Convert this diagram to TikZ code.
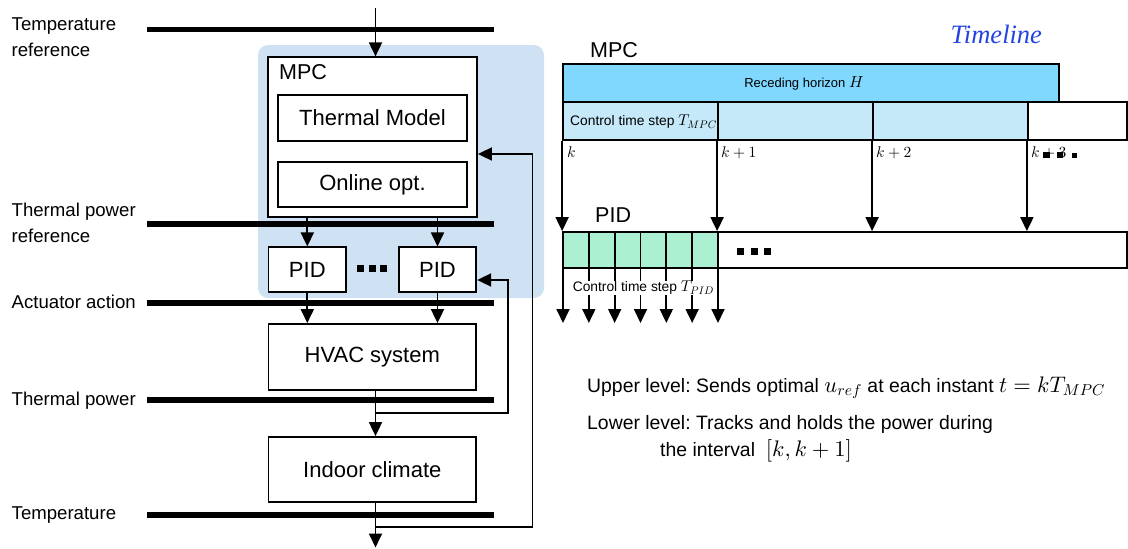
\documentclass[tikz,border=0pt]{standalone}
\usepackage{fontspec}
\setmainfont{Liberation Sans}
\newfontfamily\tlfont{Liberation Serif}
\DeclareFontShape{OML}{cmm}{m}{it}{<->cmmi10}{}
\DeclareFontShape{OT1}{cmr}{m}{n}{<->cmr10}{}
\DeclareFontShape{OMS}{cmsy}{m}{n}{<->cmsy10}{}
\usetikzlibrary{arrows.meta,calc}
\definecolor{bgblue}{HTML}{CFE2F3}
\definecolor{rhblue}{HTML}{80D8FF}
\definecolor{ctblue}{HTML}{C5E9F9}
\definecolor{pidgreen}{HTML}{AAF0D1}
\definecolor{tlblue}{HTML}{2343E0}
\newcommand{\fsz}[1]{\fontsize{#1}{#1}\selectfont}
\newcommand{\mth}[2]{{\fsz{#1}$#2$}}
\frenchspacing
\begin{document}
\begin{tikzpicture}[x=1pt,y=-1pt,
  box/.style={draw, line width=1.8pt, fill=white, inner sep=0pt, font=\fsz{22}},
  bus/.style={line width=5.2pt},
  lbl/.style={anchor=base west, inner sep=0pt, font=\fsz{18.6}},
  arr/.style={line width=1.8pt, -{Triangle[length=14pt,width=13pt]}},
  cell/.style={draw, line width=1.8pt, inner sep=0pt},
  sq/.style={fill=black},
  small/.style={inner sep=0pt, font=\fsz{13.8}},
  note/.style={anchor=base west, inner sep=0pt, font=\fsz{19.4}},
]
\useasboundingbox (0,0) rectangle (1128,549);

% ---------------- left: block diagram ----------------
\fill[bgblue, rounded corners=10pt] (258,45) rectangle (544,298);

\draw[bus] (147,29.2) -- (494,29.2);
\draw[bus] (147,224) -- (494,224);
\draw[bus] (147,303) -- (494,303);
\draw[bus] (147,400) -- (494,400);
\draw[bus] (147,515) -- (494,515);

\node[lbl] (l1a) at (11.5,30) {Temperature};
\node[lbl] (l1b) at (11.5,56.7) {reference};
\node[lbl] (l2a) at (11.5,216) {Thermal power};
\node[lbl] (l2b) at (11.5,242.5) {reference};
\node[lbl] (l3) at (11.5,308) {Actuator action};
\node[lbl] (l4) at (11.5,405) {Thermal power};
\node[lbl] (l5) at (11.5,519.5) {Temperature};

\node[box, minimum width=209pt, minimum height=160pt] (mpc) at (372.5,137.3) {};
\node[anchor=west, inner sep=0pt, font=\fsz{21.5}] (mpct) at (279,71.7) {MPC};
\node[box, minimum width=189pt, minimum height=45.7pt] (tm) at (372.5,118) {Thermal Model};
\node[box, minimum width=189pt, minimum height=45.6pt] (oo) at (372.5,184.5) {Online opt.};
\node[box, minimum width=77.5pt, minimum height=44.7pt] (pid1) at (307.3,269.7) {PID};
\node[box, minimum width=77.5pt, minimum height=44.7pt] (pid2) at (437.5,269.7) {PID};
\node[box, minimum width=207.5pt, minimum height=66pt] (hvac) at (372.3,357) {HVAC system};
\node[box, minimum width=207.5pt, minimum height=65pt] (indoor) at (372.3,469.5) {Indoor climate};

\fill[sq] (357,265) rectangle (364,272);
\fill[sq] (369,265) rectangle (376,272);
\fill[sq] (380,265) rectangle (387,272);

\coordinate (cx) at (375.5,0);
\coordinate (in0) at (375.5,8);
\coordinate (out) at (375.5,547.5);
\coordinate (fb1) at (375.5,413);
\coordinate (fb1r) at (508,280);
\coordinate (fb2) at (375.5,527);
\coordinate (fb2r) at (532.5,154);

\draw[arr] (in0) -- (in0 |- mpc.north);
\draw[arr] (pid1.north |- mpc.south) -- (pid1.north);
\draw[arr] (pid2.north |- mpc.south) -- (pid2.north);
\draw[arr] (pid1.south) -- (pid1.south |- hvac.north);
\draw[arr] (pid2.south) -- (pid2.south |- hvac.north);
\draw[arr] (hvac.south -| cx) -- (indoor.north -| cx);
\draw[arr] (indoor.south -| cx) -- (out);
\draw[arr] (fb1) -| (fb1r) -- (fb1r -| pid2.east);
\draw[arr] (fb2) -| (fb2r) -- (fb2r -| mpc.east);

% ---------------- right: timeline ----------------
\node[anchor=west, inner sep=0pt, font=\fsz{21.5}] (mpcR) at (590,50) {MPC};
\node[anchor=base west, inner sep=0pt, text=tlblue, font=\tlfont\itshape\fsz{26.5}] (tl) at (950.5,43.3) {Timeline};

\node[cell, fill=rhblue, minimum width=496pt, minimum height=37.5pt] (rh) at (811,83) {};
\node[inner sep=0pt, font=\fsz{13}] (rht) at (804,83) {Receding horizon \mth{16}{H}};

\node[cell, fill=ctblue, minimum width=155pt, minimum height=38.3pt] (c1) at (640.5,121) {};
\node[cell, fill=ctblue, minimum width=155pt, minimum height=38.3pt] (c2) at (795.5,121) {};
\node[cell, fill=ctblue, minimum width=155pt, minimum height=38.3pt] (c3) at (950.5,121) {};
\node[cell, fill=white, minimum width=99pt, minimum height=38.3pt] (c4) at (1077.3,121) {};
\node[small, anchor=west] (ctm) at (570,122) {Control time step \mth{15.6}{T_{MPC}}};

\node[small, anchor=west] (k0) at (567,152.5) {\mth{15.5}{k}};
\node[small, anchor=west] (k1) at (721,152.5) {\mth{15.5}{k+1}};
\node[small, anchor=west] (k2) at (876,152.5) {\mth{15.5}{k+2}};
\node[small, anchor=west] (k3) at (1031,152.5) {\mth{15.5}{k+3}};
\fill[sq] (1043.3,151.7) rectangle (1050,158.3);
\fill[sq] (1056.7,151.7) rectangle (1063,158.3);
\fill[sq] (1071.5,153.3) rectangle (1077,158.3);

\node[anchor=west, inner sep=0pt, font=\fsz{21.5}] (pidR) at (595,215) {PID};

\node[cell, fill=white, minimum width=563.5pt, minimum height=36pt] (pb) at (845.3,250) {};
\foreach \i in {1,...,6} {
  \node[cell, fill=pidgreen, minimum width=25.83pt, minimum height=36pt] (g\i) at ({563+25.833*(\i-0.5)},250) {};
}
\fill[sq] (736.5,247.5) rectangle (743.5,254.5);
\fill[sq] (750.5,247.5) rectangle (757.5,254.5);
\fill[sq] (763.5,247.5) rectangle (770.5,254.5);

\draw[arr] (c1.south west) -- (c1.south west |- pb.north);
\draw[arr] (c2.south west) -- (c2.south west |- pb.north);
\draw[arr] (c3.south west) -- (c3.south west |- pb.north);
\draw[arr] (c4.south west) -- (c4.south west |- pb.north);

\foreach \i in {0,...,6} {
  \coordinate (pa\i) at ({563+25.833*\i},268);
  \coordinate (pz\i) at ({563+25.833*\i},323);
  \draw[arr] (pa\i) -- (pz\i);
}
\node[small, anchor=west, fill=white, inner sep=0.6pt] (ctp) at (572,288) {Control time step \mth{15.6}{T_{PID}}};

% ---------------- notes ----------------
\node[note] (up) at (587,392.3) {Upper level: Sends optimal \mth{22.5}{u_{ref}} at each instant \mth{22.5}{t=kT_{MPC}}};
\node[note] (lo) at (587,429) {Lower level: Tracks and holds the power during};
\node[note] (iv) at (660,456.7) {the interval\ \ \mth{22.5}{[k,k+1]}};
\end{tikzpicture}
\end{document}
